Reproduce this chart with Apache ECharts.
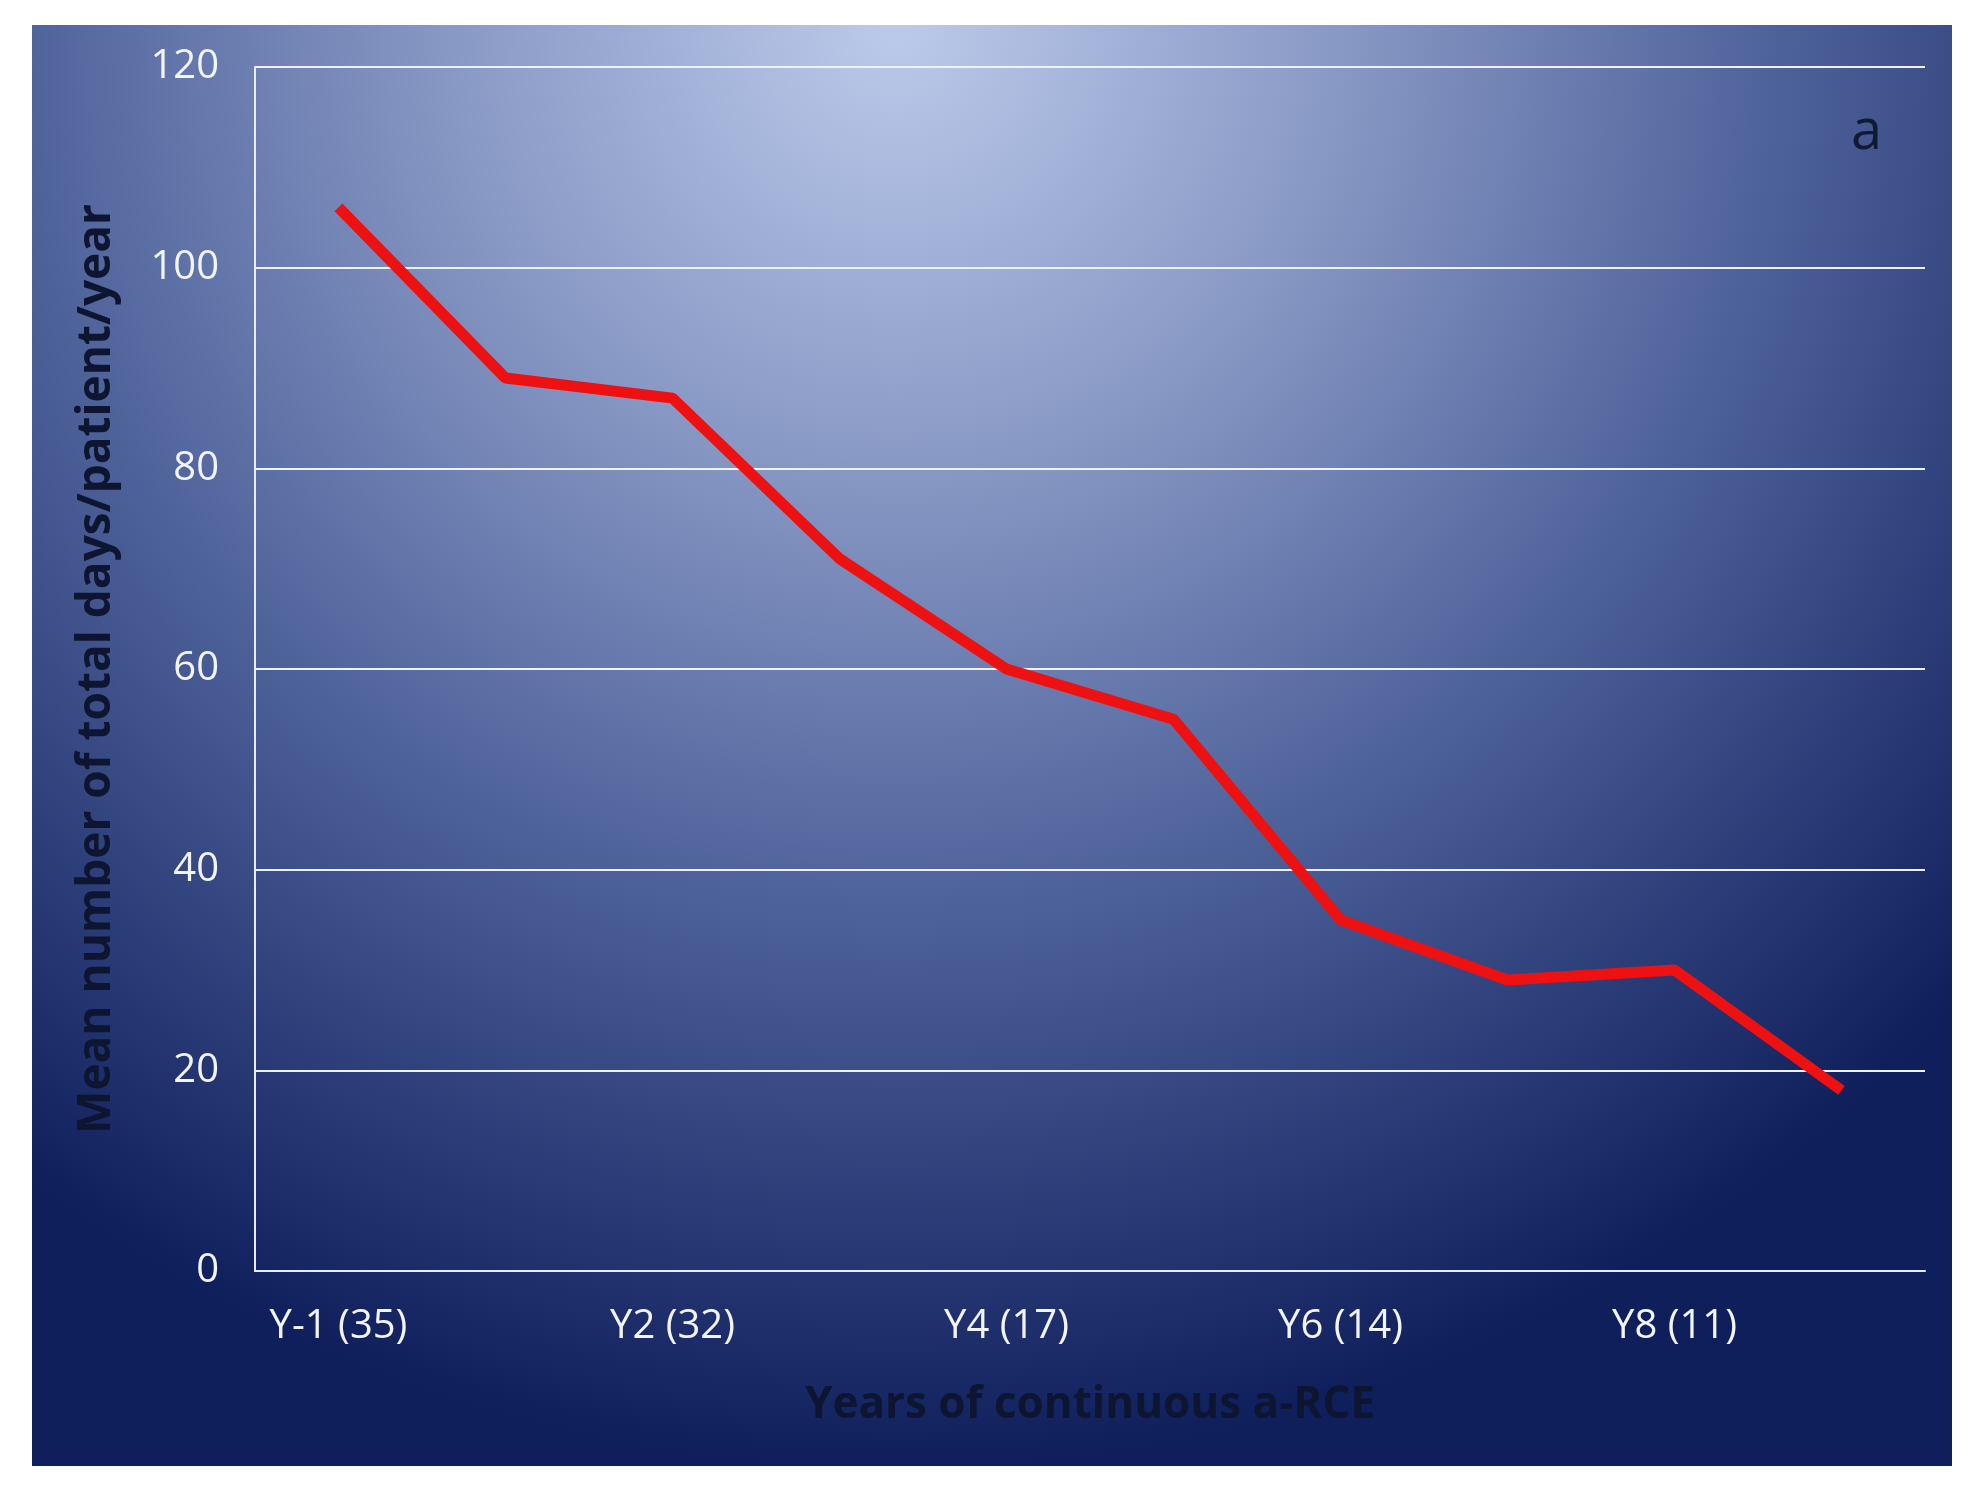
<!DOCTYPE html>
<html>
<head>
<meta charset="utf-8">
<script src="https://cdn.jsdelivr.net/npm/echarts@6/dist/echarts.min.js"></script>
<style>
  html, body { margin: 0; background: #fff; width: 1979px; height: 1488px; overflow: hidden; }
  #chart { position: absolute; left: 32px; top: 25px; width: 1920px; height: 1441px; }
</style>
</head>
<body>
<div id="chart"></div>
<script>
const categories = ['Y-1 (35)', 'Y1 (38)', 'Y2 (32)', 'Y3 (22)', 'Y4 (17)', 'Y5 (15)', 'Y6 (14)', 'Y7 (11)', 'Y8 (11)', 'Y9+ (8)'];
const meanDays = [106, 89, 87, 71, 60, 55, 35, 29, 30, 18];

const chart = echarts.init(document.getElementById('chart'));
chart.setOption({
  backgroundColor: {
    type: 'radial', x: 0.45, y: 0.0, r: 1.0,
    colorStops: [
      { offset: 0, color: '#bccaea' },
      { offset: 0.3, color: '#8a9ac6' },
      { offset: 0.6, color: '#50649c' },
      { offset: 1, color: '#0f1f5c' }
    ]
  },
  textStyle: { fontFamily: 'Open Sans' },
  grid: { left: 223, right: 27, top: 42, bottom: 195 },
  graphic: [{
    type: 'text', right: 70, top: 80,
    style: { text: 'a', fontSize: 56, fill: '#111a33', fontFamily: 'Open Sans' }
  }],
  xAxis: {
    type: 'category',
    data: categories,
    name: 'Years of continuous a-RCE',
    nameLocation: 'middle',
    nameGap: 112,
    nameTextStyle: { fontSize: 44, fontWeight: 'bold', color: '#0d1530' },
    axisLine: { lineStyle: { color: '#e8ecf6', width: 2 } },
    axisTick: { show: false },
    axisLabel: { color: '#f2f4fa', fontSize: 40, margin: 36 }
  },
  yAxis: {
    type: 'value',
    min: 0, max: 120, interval: 20,
    name: 'Mean number of total days/patient/year',
    nameLocation: 'middle',
    nameGap: 135,
    nameTextStyle: { fontSize: 46, fontWeight: 'bold', color: '#0d1530' },
    axisLine: { show: true, lineStyle: { color: '#e8ecf6', width: 2 } },
    axisTick: { show: false },
    axisLabel: { color: '#f2f4fa', fontSize: 40, margin: 36 },
    splitLine: { lineStyle: { color: '#eef1f8', width: 2 } }
  },
  series: [{
    type: 'line',
    data: meanDays,
    symbol: 'none',
    lineStyle: { color: '#ee1111', width: 11 },
    itemStyle: { color: '#ee1111' }
  }]
});
</script>
</body>
</html>
